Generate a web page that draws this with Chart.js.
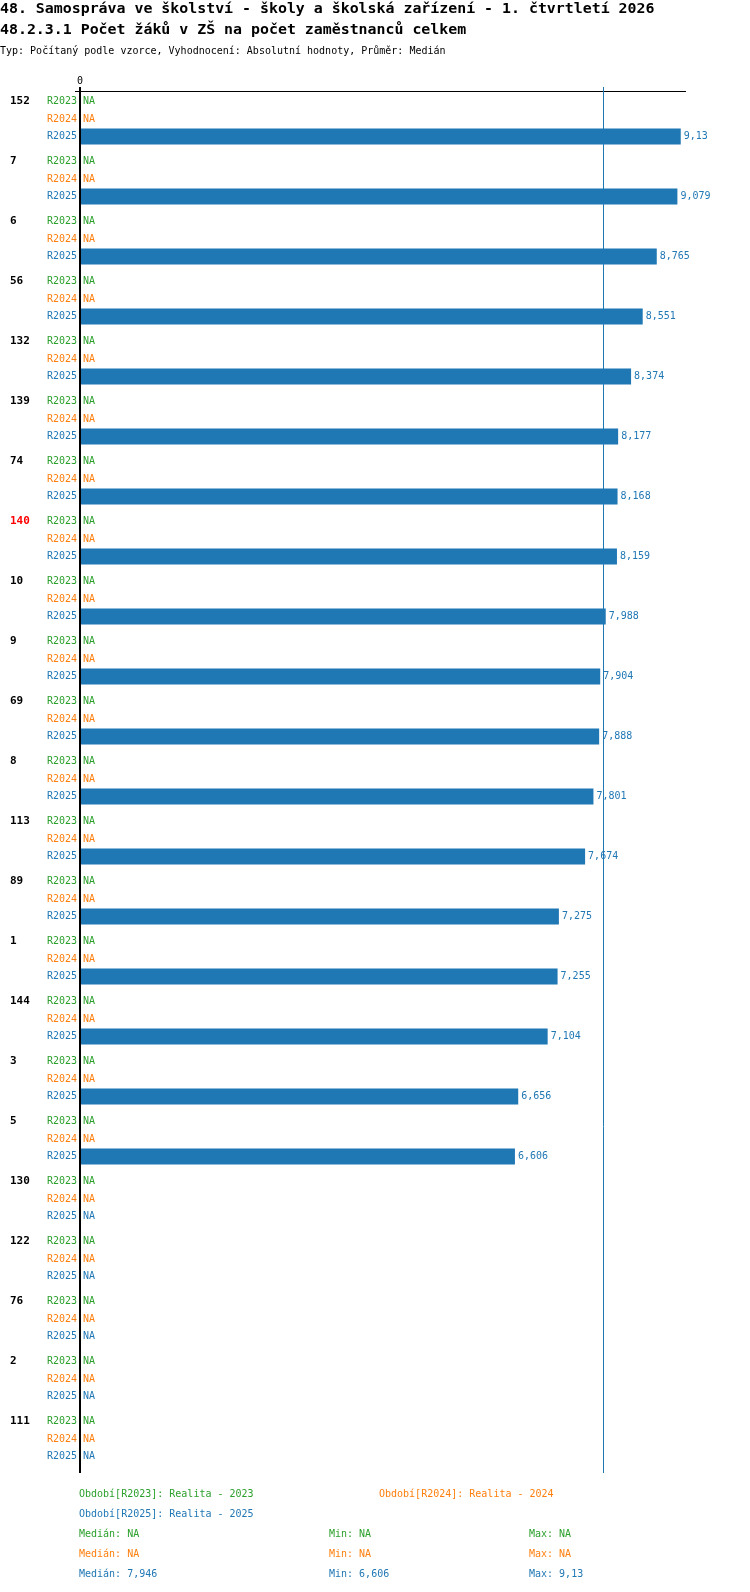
<!DOCTYPE html>
<html>
<head>
<meta charset="utf-8">
<script src="https://cdn.jsdelivr.net/npm/chart.js@4/dist/chart.umd.min.js"></script>
<style>
  html, body { margin: 0; padding: 0; background: #fff; }
  #wrap { position: relative; width: 750px; height: 1592px; overflow: hidden; font-family: 'DejaVu Sans Mono', 'Liberation Mono', monospace; }
  canvas { position: absolute; left: 0; top: 0; }
  .t { position: absolute; white-space: pre; }
  .h1 { font-size: 14.9px; font-weight: bold; line-height: 17px; color: #000; left: 0; }
  .sub { font-size: 10px; line-height: 12px; color: #000; left: 0; }
  .lg { font-size: 10px; line-height: 12px; }
</style>
</head>
<body>
<div id="wrap">
  <canvas id="c" width="750" height="1592"></canvas>
  <div class="t h1" style="top:0px">48. Samospráva ve školství - školy a školská zařízení - 1. čtvrtletí 2026</div>
  <div class="t h1" style="top:21px">48.2.3.1 Počet žáků v ZŠ na počet zaměstnanců celkem</div>
  <div class="t sub" style="top:45px">Typ: Počítaný podle vzorce, Vyhodnocení: Absolutní hodnoty, Průměr: Medián</div>
  <div id="legend"></div>
</div>
<script>
// ---- data ----
const categories = ['152','7','6','56','132','139','74','140','10','9','69','8','113','89','1','144','3','5','130','122','76','2','111'];
const highlighted = ['140'];
const seriesNames = ['R2023', 'R2024', 'R2025'];
const seriesTitles = ['Realita - 2023', 'Realita - 2024', 'Realita - 2025'];
const r2023 = [null,null,null,null,null,null,null,null,null,null,null,null,null,null,null,null,null,null,null,null,null,null,null];
const r2024 = [null,null,null,null,null,null,null,null,null,null,null,null,null,null,null,null,null,null,null,null,null,null,null];
const r2025 = [9.13, 9.079, 8.765, 8.551, 8.374, 8.177, 8.168, 8.159, 7.988, 7.904, 7.888, 7.801, 7.674, 7.275, 7.255, 7.104, 6.656, 6.606, null, null, null, null, null];
const xTicks = [0];
const xMax = 9.21;

const colors = ['#2ca02c', '#ff7f0e', '#1f77b4'];
const FONT = "'DejaVu Sans Mono', 'Liberation Mono', monospace";
const series = [r2023, r2024, r2025];

function fmt(v) {
  if (v === null || v === undefined || isNaN(v)) return 'NA';
  return String(Math.round(v * 1000) / 1000).replace('.', ',');
}
function stats(arr) {
  const a = arr.filter(v => v !== null).sort((x, y) => x - y);
  if (!a.length) return { med: null, min: null, max: null };
  const m = a.length % 2 ? a[(a.length - 1) / 2] : (a[a.length / 2 - 1] + a[a.length / 2]) / 2;
  return { med: m, min: a[0], max: a[a.length - 1] };
}
const st = series.map(stats);

// ---- legend (HTML text) ----
(function () {
  const lg = document.getElementById('legend');
  const items = [
    [79, 1488, 0, 'Období[' + seriesNames[0] + ']: ' + seriesTitles[0]],
    [379, 1488, 1, 'Období[' + seriesNames[1] + ']: ' + seriesTitles[1]],
    [79, 1508, 2, 'Období[' + seriesNames[2] + ']: ' + seriesTitles[2]]
  ];
  for (let i = 0; i < 3; i++) {
    const y = 1528 + i * 20;
    items.push([79, y, i, 'Medián: ' + fmt(st[i].med)]);
    items.push([329, y, i, 'Min: ' + fmt(st[i].min)]);
    items.push([529, y, i, 'Max: ' + fmt(st[i].max)]);
  }
  items.forEach(([x, y, ci, txt]) => {
    const d = document.createElement('div');
    d.className = 't lg';
    d.style.left = x + 'px';
    d.style.top = y + 'px';
    d.style.color = colors[ci];
    d.textContent = txt;
    lg.appendChild(d);
  });
})();

// ---- custom drawing plugin ----
const decor = {
  id: 'decor',
  afterDatasetsDraw(chart) {
    const ctx = chart.ctx;
    const xs = chart.scales.x;
    const x0 = xs.getPixelForValue(0);
    const axTop = 87, axBottom = 1473;
    ctx.save();
    // top axis line
    ctx.fillStyle = '#000';
    ctx.fillRect(75, 91, xs.getPixelForValue(xMax) - 75, 1);
    // tick labels
    ctx.font = '10px ' + FONT;
    ctx.textAlign = 'center';
    ctx.textBaseline = 'middle';
    xTicks.forEach(t => ctx.fillText(String(t), xs.getPixelForValue(t) - 1, 81));
    // median line of the R2025 series
    if (st[2].med !== null) {
      const mx = Math.round(xs.getPixelForValue(st[2].med)) + 0.5;
      ctx.strokeStyle = colors[2];
      ctx.lineWidth = 1;
      ctx.beginPath();
      ctx.moveTo(mx, axTop);
      ctx.lineTo(mx, axBottom);
      ctx.stroke();
    }
    // zero axis
    ctx.fillStyle = '#000';
    ctx.fillRect(x0 - 2, axTop, 2, axBottom - axTop);

    // labels per bar
    for (let d = 0; d < 3; d++) {
      const meta = chart.getDatasetMeta(d);
      meta.data.forEach((bar, i) => {
        const y = bar.y;
        const v = series[d][i];
        ctx.font = '10px ' + FONT;
        ctx.textBaseline = 'middle';
        ctx.fillStyle = colors[d];
        ctx.textAlign = 'right';
        ctx.fillText(seriesNames[d], x0 - 4, y);
        ctx.textAlign = 'left';
        if (v === null) {
          ctx.fillText('NA', x0 + 2, y);
        } else {
          ctx.fillText(fmt(v), bar.x + 3, y);
        }
        if (d === 0) {
          ctx.font = 'bold 11px ' + FONT;
          ctx.fillStyle = highlighted.includes(categories[i]) ? '#ff0000' : '#000';
          ctx.textAlign = 'left';
          ctx.fillText(categories[i], 10, y);
        }
      });
    }
    ctx.restore();
  }
};

new Chart(document.getElementById('c'), {
  type: 'bar',
  data: {
    labels: categories,
    datasets: series.map((s, i) => ({
      label: seriesNames[i],
      data: s,
      backgroundColor: colors[i],
      borderWidth: 0,
      categoryPercentage: 0.875,
      barPercentage: 0.914
    }))
  },
  options: {
    indexAxis: 'y',
    responsive: false,
    animation: false,
    devicePixelRatio: 1,
    layout: { padding: { left: 81, right: 64, top: 89, bottom: 123 } },
    scales: {
      x: { display: false, min: 0, max: xMax },
      y: { display: false, offset: true }
    },
    plugins: {
      legend: { display: false },
      tooltip: { enabled: false },
      title: { display: false }
    }
  },
  plugins: [decor]
});
</script>
</body>
</html>
